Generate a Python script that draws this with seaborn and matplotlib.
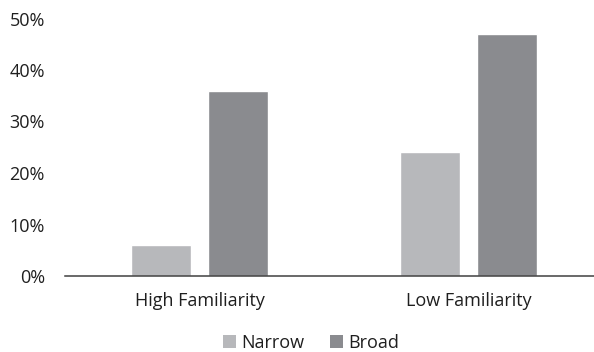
import matplotlib
matplotlib.use("Agg")
import matplotlib.pyplot as plt
import seaborn as sns
import pandas as pd
from matplotlib.patches import Patch
from matplotlib.ticker import PercentFormatter

categories = ["High Familiarity", "Low Familiarity"]
series = ["Narrow", "Broad"]
narrow_values = [0.06, 0.24]
broad_values = [0.36, 0.47]
y_ticks = [0.0, 0.1, 0.2, 0.3, 0.4, 0.5]

colors = {"Narrow": "#b7b8bb", "Broad": "#8a8b8f"}

df = pd.DataFrame({
    "category": categories * 2,
    "series": ["Narrow"] * len(categories) + ["Broad"] * len(categories),
    "value": narrow_values + broad_values,
})

sns.set_theme(style="white")
plt.rcParams["font.family"] = ["Open Sans", "DejaVu Sans"]
text_color = "#1f1f1f"
fs = 13

fig = plt.figure(figsize=(5.94, 3.52), dpi=100)
ax = fig.add_axes([65 / 594, 76 / 352, 538 / 594, 257.5 / 352])

sns.barplot(data=df, x="category", y="value", hue="series", order=categories,
            hue_order=series, palette=colors, width=0.572, gap=0.22,
            saturation=1, legend=False, ax=ax)

ax.set_ylim(0, 0.5)
ax.set_xlim(-0.5, 1.5)
ax.set_yticks(y_ticks)
ax.yaxis.set_major_formatter(PercentFormatter(1.0, decimals=0))
ax.set_xlabel("")
ax.set_ylabel("")
for side in ["left", "right", "top"]:
    ax.spines[side].set_visible(False)
ax.spines["bottom"].set_color("#404040")
ax.spines["bottom"].set_linewidth(1.1)
ax.tick_params(axis="y", length=0, pad=14.5, labelsize=fs, labelcolor=text_color)
ax.tick_params(axis="x", length=0, pad=11.5, labelsize=fs, labelcolor=text_color)

handles = [Patch(facecolor=colors[s], edgecolor="none", label=s) for s in series]
fig.legend(handles=handles, loc="center", bbox_to_anchor=(311 / 594, 1 - 343 / 352),
           ncol=2, frameon=False, fontsize=fs, handlelength=0.72, handleheight=0.72,
           handletextpad=0.3, columnspacing=1.4, labelcolor=text_color)

fig.savefig("out.png", dpi=100)
